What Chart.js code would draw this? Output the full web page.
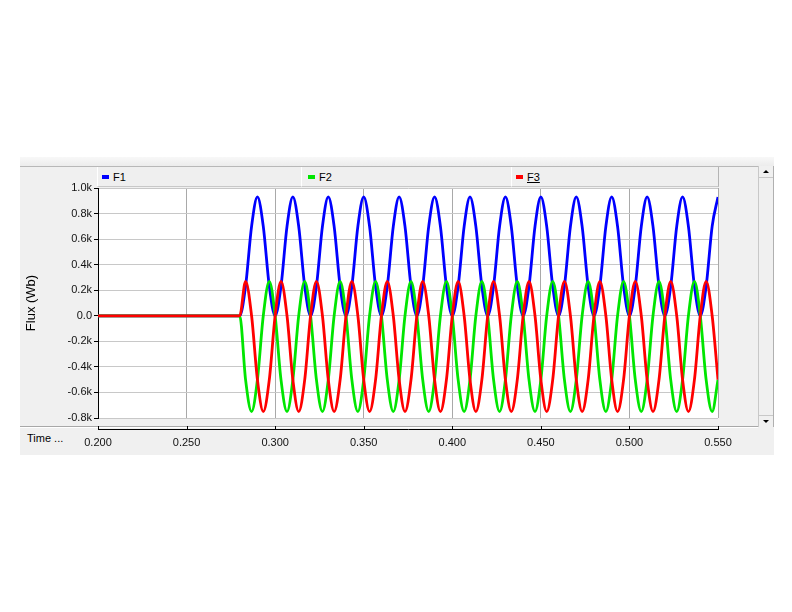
<!DOCTYPE html>
<html>
<head>
<meta charset="utf-8">
<script src="https://cdn.jsdelivr.net/npm/chart.js@4/dist/chart.umd.min.js"></script>
<style>
  body { margin:0; background:#fff; width:792px; height:612px; overflow:hidden; position:relative; font-family:"Liberation Sans", Arial, sans-serif; }
  .abs { position:absolute; }
  #panel { left:20px; top:157px; width:754px; height:298px; background:#f0f0f0; }
  #topband { left:20px; top:157px; width:754px; height:9px; background:linear-gradient(#f8f8f8,#ececec); border-bottom:1px solid #b8b8b8; }
  .cell { top:167px; height:19px; border-right:1px solid #b4b4b4; border-left:1px solid #ffffff; border-bottom:1px solid #c8c8c8; background:#efefef; font-size:11px; color:#000; line-height:20px; }
  .mk { position:absolute; top:8px; width:7px; height:4px; }
  .lbl { position:absolute; top:0; }
  #sb { left:758px; top:166px; width:14px; height:261px; border-left:1px solid #c8c8c8; border-right:1px solid #b0b0b0; background:#f0f0f0; }
  .btn { position:absolute; left:0; width:14px; height:11px; }
  .up { width:0; height:0; border-left:3px solid transparent; border-right:3px solid transparent; border-bottom:3px solid #000; position:absolute; left:4px; top:4px; }
  .dn { width:0; height:0; border-left:3px solid transparent; border-right:3px solid transparent; border-top:3px solid #000; position:absolute; left:4px; top:4px; }
  #timelbl { left:27px; top:432px; font-size:11px; color:#000; }
  canvas { position:absolute; left:0; top:0; }
</style>
</head>
<body>
<div id="panel" class="abs"></div>
<div id="topband" class="abs"></div>
<div class="abs cell" style="left:97px;width:203px;"><div class="mk" style="left:4px;background:#0000ff"></div><div class="lbl" style="left:15px">F1</div></div>
<div class="abs cell" style="left:301px;width:209px;"><div class="mk" style="left:6px;background:#00e600"></div><div class="lbl" style="left:17px">F2</div></div>
<div class="abs cell" style="left:511px;width:206px;"><div class="mk" style="left:4px;background:#ff0000"></div><div class="lbl" style="left:15px;text-decoration:underline">F3</div></div>
<div id="sb" class="abs">
  <div class="btn" style="top:0;border-bottom:1px solid #c8c8c8"><div class="up"></div></div>
  <div class="btn" style="top:249px;border-top:1px solid #c8c8c8"><div class="dn"></div></div>
</div>
<div id="timelbl" class="abs">Time ...</div>
<canvas id="c" width="792" height="612"></canvas>
<script>
// Time axis (s)
const time = [0.2000,
  0.2800, 0.2833, 0.2867, 0.2900, 0.2933, 0.2967,
  0.3000, 0.3033, 0.3067, 0.3100, 0.3133, 0.3167,
  0.3200, 0.3233, 0.3267, 0.3300, 0.3333, 0.3367,
  0.3400, 0.3433, 0.3467, 0.3500, 0.3533, 0.3567,
  0.3600, 0.3633, 0.3667, 0.3700, 0.3733, 0.3767,
  0.3800, 0.3833, 0.3867, 0.3900, 0.3933, 0.3967,
  0.4000, 0.4033, 0.4067, 0.4100, 0.4133, 0.4167,
  0.4200, 0.4233, 0.4267, 0.4300, 0.4333, 0.4367,
  0.4400, 0.4433, 0.4467, 0.4500, 0.4533, 0.4567,
  0.4600, 0.4633, 0.4667, 0.4700, 0.4733, 0.4767,
  0.4800, 0.4833, 0.4867, 0.4900, 0.4933, 0.4967,
  0.5000, 0.5033, 0.5067, 0.5100, 0.5133, 0.5167,
  0.5200, 0.5233, 0.5267, 0.5300, 0.5333, 0.5367,
  0.5400, 0.5433, 0.5467, 0.5500];

// Flux (Wb)
const F1 = [0,
  0, 230, 700, 930, 700, 230,
  0, 230, 700, 930, 700, 230,
  0, 230, 700, 930, 700, 230,
  0, 230, 700, 930, 700, 230,
  0, 230, 700, 930, 700, 230,
  0, 230, 700, 930, 700, 230,
  0, 230, 700, 930, 700, 230,
  0, 230, 700, 930, 700, 230,
  0, 230, 700, 930, 700, 230,
  0, 230, 700, 930, 700, 230,
  0, 230, 700, 930, 700, 230,
  0, 230, 700, 930, 700, 230,
  0, 230, 700, 930, 700, 230,
  0, 230, 700, 930];

const F2 = [0,
  0, -500, -750, -500, 0, 270,
  0, -500, -750, -500, 0, 270,
  0, -500, -750, -500, 0, 270,
  0, -500, -750, -500, 0, 270,
  0, -500, -750, -500, 0, 270,
  0, -500, -750, -500, 0, 270,
  0, -500, -750, -500, 0, 270,
  0, -500, -750, -500, 0, 270,
  0, -500, -750, -500, 0, 270,
  0, -500, -750, -500, 0, 270,
  0, -500, -750, -500, 0, 270,
  0, -500, -750, -500, 0, 270,
  0, -500, -750, -500, 0, 270,
  0, -500, -750, -500];

const F3 = [0,
  0, 270, 0, -500, -750, -500,
  0, 270, 0, -500, -750, -500,
  0, 270, 0, -500, -750, -500,
  0, 270, 0, -500, -750, -500,
  0, 270, 0, -500, -750, -500,
  0, 270, 0, -500, -750, -500,
  0, 270, 0, -500, -750, -500,
  0, 270, 0, -500, -750, -500,
  0, 270, 0, -500, -750, -500,
  0, 270, 0, -500, -750, -500,
  0, 270, 0, -500, -750, -500,
  0, 270, 0, -500, -750, -500,
  0, 270, 0, -500, -750, -500,
  0, 270, 0, -500];

const seriesNames = ['F1', 'F2', 'F3'];
const seriesColors = ['#0000ff', '#00e600', '#ff0000'];
const xTickMin = 0.2, xTickMax = 0.55, xTickStep = 0.05;
const yTickMin = -800, yTickMax = 1000, yTickStep = 200;

function pts(vals) { return vals.map((v, i) => ({ x: time[i], y: v })); }

const frame = {
  id: 'frame',
  beforeDraw(chart) {
    const { ctx, chartArea: a } = chart;
    ctx.save();
    ctx.fillStyle = '#ffffff';
    ctx.fillRect(a.left, a.top, a.right - a.left, a.bottom - a.top);
    ctx.restore();
  },
  afterDraw(chart) {
    const ctx = chart.ctx, xs = chart.scales.x;
    ctx.save();
    ctx.lineWidth = 1;
    ctx.strokeStyle = '#a8a8a8';
    ctx.beginPath(); ctx.moveTo(20, 426.5); ctx.lineTo(758, 426.5); ctx.stroke();
    ctx.strokeStyle = '#ffffff';
    ctx.beginPath(); ctx.moveTo(20, 427.5); ctx.lineTo(758, 427.5); ctx.stroke();
    ctx.strokeStyle = '#000000';
    ctx.beginPath(); ctx.moveTo(xs.left, 429.5); ctx.lineTo(xs.right + 1, 429.5); ctx.stroke();
    xs.ticks.forEach(t => {
      const px = Math.round(xs.getPixelForValue(t.value)) + 0.5;
      ctx.beginPath(); ctx.moveTo(px, 426); ctx.lineTo(px, 430); ctx.stroke();
    });
    ctx.restore();
  }
};

new Chart(document.getElementById('c'), {
  type: 'line',
  data: {
    datasets: seriesNames.map((n, k) => ({
      label: n,
      data: pts([F1, F2, F3][k]),
      borderColor: seriesColors[k],
      backgroundColor: seriesColors[k],
      borderWidth: 2.8,
      pointRadius: 0,
      cubicInterpolationMode: 'monotone',
      fill: false,
      order: 3 - k
    }))
  },
  options: {
    responsive: false,
    animation: false,
    devicePixelRatio: 1,
    layout: { padding: { left: 20, top: 188, right: 74, bottom: 158 } },
    plugins: { legend: { display: false }, tooltip: { enabled: false } },
    scales: {
      x: {
        type: 'linear',
        min: xTickMin, max: xTickMax,
        afterFit(s) { s.height = 36; },
        ticks: {
          stepSize: xTickStep,
          padding: 18,
          color: '#111',
          font: { family: 'Liberation Sans', size: 11 },
          maxRotation: 0,
          callback: v => Number(v).toFixed(3)
        },
        grid: {
          drawTicks: false,
          color: c => (c.index === 0 ? 'rgba(0,0,0,0)' : '#a9a9a9'),
          lineWidth: 1
        },
        border: { display: false }
      },
      y: {
        type: 'linear',
        min: yTickMin, max: yTickMax,
        afterFit(s) { s.width = 78; },
        title: { display: true, text: 'Flux (Wb)', color: '#000', font: { family: 'Liberation Sans', size: 13 } },
        ticks: {
          stepSize: yTickStep,
          padding: 2,
          color: '#111',
          font: { family: 'Liberation Sans', size: 11 },
          callback: v => (v === 0 ? '0.0' : (v / 1000).toFixed(1) + 'k')
        },
        grid: { color: '#c8c8c8', tickColor: '#000', tickLength: 4, lineWidth: 1 },
        border: { display: true, color: '#000', width: 1 }
      }
    }
  },
  plugins: [frame]
});
</script>
</body>
</html>
